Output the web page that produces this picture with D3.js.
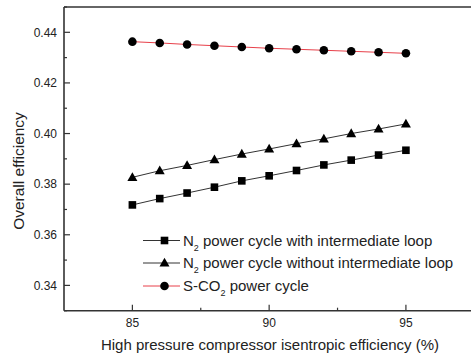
<!DOCTYPE html>
<html>
<head>
<meta charset="utf-8">
<script src="https://cdn.jsdelivr.net/npm/d3@7/dist/d3.min.js"></script>
<style>
  body { margin: 0; background: #fff; }
  svg text { font-family: "Liberation Sans", Arial, sans-serif; fill: #222; }
</style>
</head>
<body>
<svg id="chart" width="471" height="356"></svg>
<script>
// compressor isentropic efficiency (%)
const effX = [85, 86, 87, 88, 89, 90, 91, 92, 93, 94, 95];

// overall efficiency per cycle
const n2WithLoop = [0.3718, 0.3743, 0.3765, 0.3788, 0.3813, 0.3833, 0.3854, 0.3876, 0.3895, 0.3915, 0.3934];
const n2WithoutLoop = [0.3827, 0.3853, 0.3874, 0.3897, 0.3919, 0.3939, 0.3960, 0.3979, 0.4000, 0.4018, 0.4038];
const sco2 = [0.4363, 0.4358, 0.4352, 0.4347, 0.4342, 0.4337, 0.4333, 0.4329, 0.4325, 0.4321, 0.4317];

const xTicks = [85, 90, 95];
const xMinor = [87.5, 92.5];
const yTicks = [0.34, 0.36, 0.38, 0.40, 0.42, 0.44];
const yMinor = [0.33, 0.35, 0.37, 0.39, 0.41, 0.43, 0.45];

const series = [
  { label: " power cycle with intermediate loop", pre: "N", sub: "2", values: n2WithLoop, marker: "square", line: "#333" },
  { label: " power cycle without intermediate loop", pre: "N", sub: "2", values: n2WithoutLoop, marker: "triangle", line: "#333" },
  { label: " power cycle", pre: "S-CO", sub: "2", values: sco2, marker: "circle", line: "#e8404a" }
];

const svg = d3.select("#chart");
const plotL = 64, plotR = 474.3, plotT = 7, plotB = 310.7;

const x = d3.scaleLinear().domain([82.5, 97.5]).range([plotL, plotR]);
const y = d3.scaleLinear().domain([0.33, 0.45]).range([plotB, plotT]);

// frame (left, bottom, top) - right side falls outside the picture
const axisColor = "#333";
svg.append("line").attr("x1", plotL).attr("x2", plotL).attr("y1", plotT).attr("y2", plotB)
  .attr("stroke", axisColor).attr("stroke-width", 1.6);
svg.append("line").attr("x1", plotL).attr("x2", plotR).attr("y1", plotB).attr("y2", plotB)
  .attr("stroke", axisColor).attr("stroke-width", 1.6);
svg.append("line").attr("x1", plotL).attr("x2", plotR).attr("y1", plotT).attr("y2", plotT)
  .attr("stroke", axisColor).attr("stroke-width", 1.6);

// inward ticks
svg.selectAll(".yt").data(yTicks).enter().append("line")
  .attr("x1", plotL).attr("x2", plotL + 6)
  .attr("y1", d => y(d)).attr("y2", d => y(d))
  .attr("stroke", axisColor).attr("stroke-width", 1.2);
svg.selectAll(".ym").data(yMinor).enter().append("line")
  .attr("x1", plotL).attr("x2", plotL + 3)
  .attr("y1", d => y(d)).attr("y2", d => y(d))
  .attr("stroke", axisColor).attr("stroke-width", 1.2);
svg.selectAll(".xt").data(xTicks).enter().append("line")
  .attr("x1", d => x(d)).attr("x2", d => x(d))
  .attr("y1", plotB).attr("y2", plotB - 6)
  .attr("stroke", axisColor).attr("stroke-width", 1.2);
svg.selectAll(".xm").data(xMinor).enter().append("line")
  .attr("x1", d => x(d)).attr("x2", d => x(d))
  .attr("y1", plotB).attr("y2", plotB - 3)
  .attr("stroke", axisColor).attr("stroke-width", 1.2);

// tick labels
svg.selectAll(".yl").data(yTicks).enter().append("text")
  .attr("x", plotL - 7).attr("y", d => y(d)).attr("dy", "0.35em")
  .attr("text-anchor", "end").style("font-size", "12px")
  .text(d => d3.format(".2f")(d));
svg.selectAll(".xl").data(xTicks).enter().append("text")
  .attr("x", d => x(d)).attr("y", plotB + 16.5)
  .attr("text-anchor", "middle").style("font-size", "12px")
  .text(d => d);

// axis titles
svg.append("text")
  .attr("transform", "translate(24,171) rotate(-90)")
  .attr("text-anchor", "middle").style("font-size", "15.5px")
  .text("Overall efficiency");
svg.append("text")
  .attr("x", 270).attr("y", 349.5)
  .attr("text-anchor", "middle").style("font-size", "15px")
  .text("High pressure compressor isentropic efficiency (%)");

// marker drawing helper
function drawMarker(g, kind, cx, cy) {
  if (kind === "square") {
    g.append("rect").attr("x", cx - 3.8).attr("y", cy - 3.8)
      .attr("width", 7.6).attr("height", 7.6).attr("fill", "#000");
  } else if (kind === "triangle") {
    g.append("path")
      .attr("d", `M${cx},${cy - 5.2}L${cx + 5},${cy + 3.6}L${cx - 5},${cy + 3.6}Z`)
      .attr("fill", "#000");
  } else {
    g.append("circle").attr("cx", cx).attr("cy", cy).attr("r", 4.3).attr("fill", "#000");
  }
}

const line = d3.line().x((d, i) => x(effX[i])).y(d => y(d));

series.forEach(s => {
  svg.append("path").datum(s.values)
    .attr("d", line).attr("fill", "none")
    .attr("stroke", s.line).attr("stroke-width", 1);
  const g = svg.append("g");
  s.values.forEach((v, i) => drawMarker(g, s.marker, x(effX[i]), y(v)));
});

// legend
const legendY = [240.5, 263, 286];
series.forEach((s, i) => {
  const ly = legendY[i];
  svg.append("line").attr("x1", 143).attr("x2", 180).attr("y1", ly).attr("y2", ly)
    .attr("stroke", s.line).attr("stroke-width", 1);
  drawMarker(svg.append("g"), s.marker, 164.5, ly);
  const t = svg.append("text").attr("x", 183).attr("y", ly).attr("dy", "0.35em")
    .style("font-size", "15px");
  t.append("tspan").text(s.pre);
  t.append("tspan").attr("dy", 5).style("font-size", "9px").text(s.sub);
  t.append("tspan").attr("dy", -5).text(s.label);
});
</script>
</body>
</html>
